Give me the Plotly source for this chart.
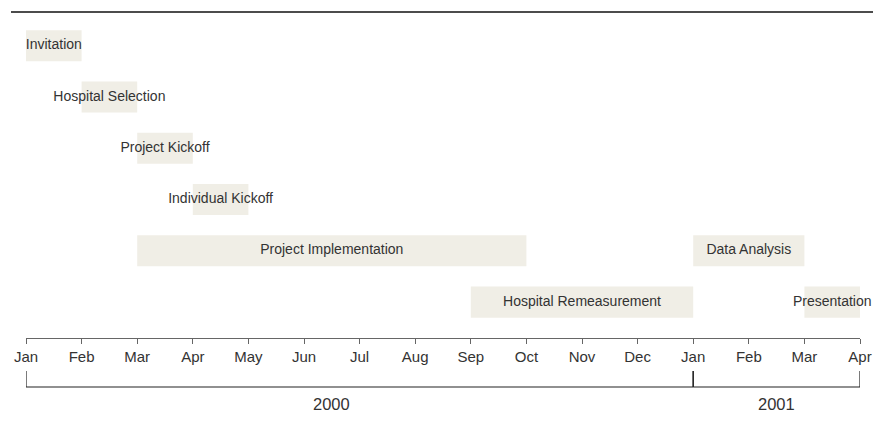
import plotly.graph_objects as go

months = ["Jan", "Feb", "Mar", "Apr", "May", "Jun", "Jul", "Aug", "Sep", "Oct", "Nov", "Dec",
          "Jan", "Feb", "Mar", "Apr"]
month_pos = list(range(len(months)))

tasks = ["Invitation", "Hospital Selection", "Project Kickoff", "Individual Kickoff",
         "Project Implementation", "Data Analysis", "Hospital Remeasurement", "Presentation"]
task_start = [0, 1, 2, 3, 2, 12, 8, 14]   # month index (0 = Jan 2000)
task_end = [1, 2, 3, 4, 9, 14, 12, 15]
task_row = [0, 1, 2, 3, 4, 4, 5, 5]

years = ["2000", "2001"]
year_start = [0, 12]
year_end = [12, 15]
year_label_pos = [5.5, 13.5]

BAR = "#f0eee6"
TXT = "#333333"
FONT = "Liberation Sans, Arial, Helvetica, sans-serif"

fig = go.Figure()
fig.add_trace(go.Bar(
    orientation="h",
    y=task_row,
    base=task_start,
    x=[e - s for s, e in zip(task_start, task_end)],
    width=0.605,
    marker=dict(color=BAR, line=dict(width=0)),
    hoverinfo="skip",
    showlegend=False,
))
fig.add_trace(go.Scatter(
    x=[(s + e) / 2 for s, e in zip(task_start, task_end)],
    y=task_row,
    mode="text",
    text=tasks,
    textposition="middle center",
    textfont=dict(family=FONT, size=14, color=TXT),
    cliponaxis=False,
    hoverinfo="skip",
    showlegend=False,
))

# page body has an 8px default margin: compensate so the screenshot aligns
OFF = 8
W, H = 884 - OFF, 429 - OFF
L, R, T, B = 26 - OFF, 24, 12 - OFF, 91
plot_w = W - L - R
plot_h = H - T - B

def py(pix):
    # pix = screen pixel
    return (H - B - (pix - OFF)) / plot_h

def px(pix):
    return (pix - OFF - L) / plot_w

shapes = []
# top rule
shapes.append(dict(type="line", xref="paper", yref="paper", x0=px(11), x1=px(873),
                   y0=py(12), y1=py(12), line=dict(color="#111111", width=1.3)))
# year brackets
for s, e in zip(year_start, year_end):
    shapes.append(dict(type="line", xref="x", yref="paper", x0=s, x1=e, y0=py(387), y1=py(387),
                       line=dict(color="#222222", width=1.2)))
    for xv in (s, e):
        shapes.append(dict(type="line", xref="x", yref="paper", x0=xv, x1=xv, y0=py(371), y1=py(387),
                           line=dict(color="#222222", width=1.2)))

annotations = []
for lab, xp in zip(years, year_label_pos):
    annotations.append(dict(x=xp, xref="x", y=py(404), yref="paper", text=lab, showarrow=False,
                            font=dict(family=FONT, size=16.5, color=TXT), xanchor="center", yanchor="middle"))

fig.update_layout(
    width=W, height=H,
    margin=dict(l=L, r=R, t=T, b=B),
    paper_bgcolor="white", plot_bgcolor="white",
    barmode="overlay",
    shapes=shapes,
    annotations=annotations,
    xaxis=dict(range=[0, 15], tickvals=month_pos, ticktext=months, showgrid=False, zeroline=False,
               showline=True, linecolor="#666666", linewidth=1.2, ticks="outside", ticklen=5,
               tickcolor="#666666", tickwidth=1.2,
               tickfont=dict(family=FONT, size=15, color=TXT)),
    yaxis=dict(range=[5.70, -0.66], showgrid=False, zeroline=False, showticklabels=False,
               showline=False),
)
fig.write_html("out.html")
